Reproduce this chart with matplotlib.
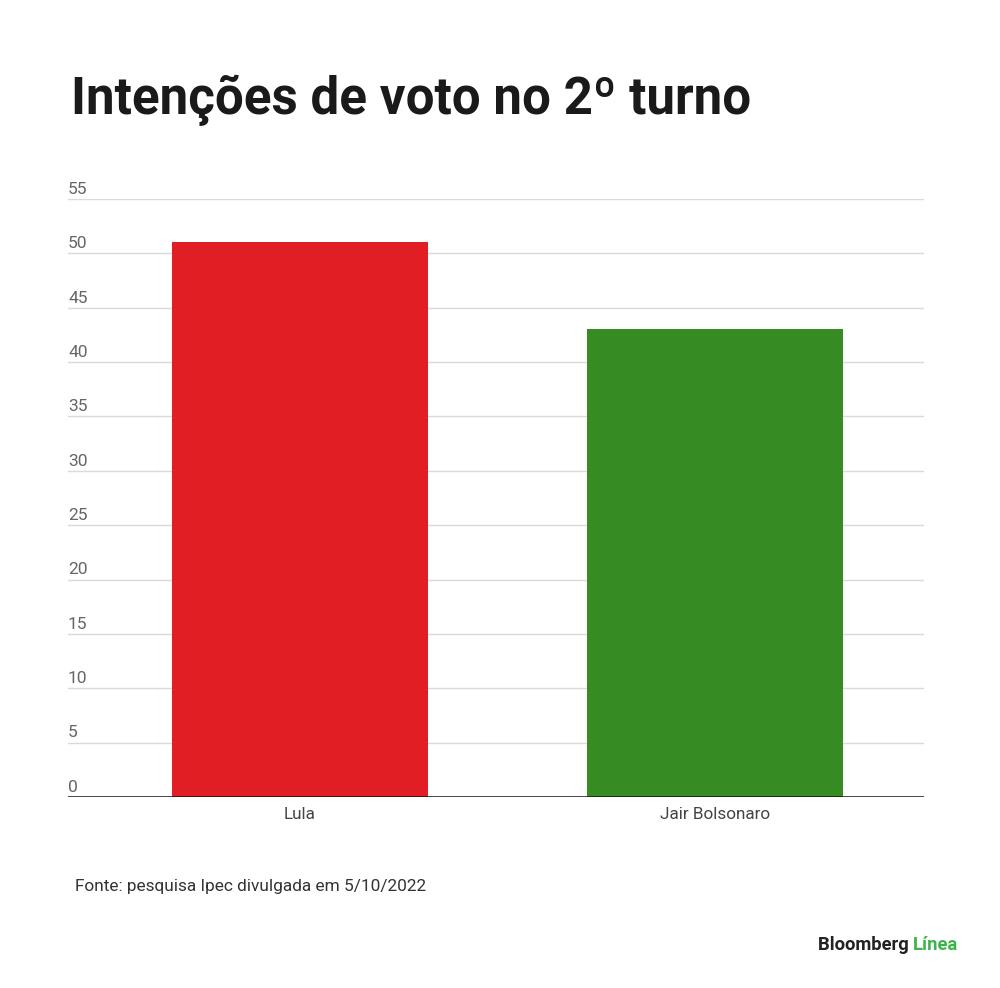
import matplotlib
matplotlib.use("Agg")
from matplotlib import pyplot as plt

# data
candidates = ['Lula', 'Jair Bolsonaro']
votes = [51, 43]
bar_colors = ['#e21e25', '#368b23']
yticks = [0, 5, 10, 15, 20, 25, 30, 35, 40, 45, 50, 55]

title = 'Intenções de voto no 2º turno'
source = 'Fonte: pesquisa Ipec divulgada em 5/10/2022'

plt.rcParams['font.family'] = ['Roboto', 'DejaVu Sans']

fig = plt.figure(figsize=(10, 9.88), dpi=100)
ax = fig.add_axes([0.068, 0.1933, 0.856, 0.6053])

x = list(range(len(candidates)))
ax.bar(x, votes, width=0.617, color=bar_colors, zorder=3)

ax.set_xlim(-0.559, 1.504)
ax.set_ylim(0, 55)

# horizontal grid and labels sitting above each line
for v in yticks:
    if v > 0:
        ax.axhline(v, color='#d9d9d9', lw=1, zorder=1)
    ax.text(-0.559, v + 0.2, str(v), ha='left', va='bottom',
            fontsize=12.5, color='#666666')
ax.axhline(0, color='#111111', lw=1.8, zorder=4)

ax.set_yticks([])
ax.set_xticks(x)
ax.set_xticklabels(candidates, fontsize=12.3, color='#444444')
ax.tick_params(axis='x', length=0, pad=7)
for s in ax.spines.values():
    s.set_visible(False)

fig.text(0.071, 0.898, title, fontsize=36.8, fontweight='bold',
         color='#1a1a1a', ha='left', va='center')
fig.text(0.075, 0.103, source, fontsize=12.4, color='#333333',
         ha='left', va='center')

t1 = fig.text(0.818, 0.044, 'Bloomberg ', fontsize=13.2, fontweight='bold',
              color='#222222', ha='left', va='center')
fig.canvas.draw()
bb = t1.get_window_extent()
fig.text(bb.x1 / fig.bbox.width, 0.044, 'Línea', fontsize=13.2,
         fontweight='bold', color='#3cb44b', ha='left', va='center')

fig.savefig('out.png', dpi=100, facecolor='white')
